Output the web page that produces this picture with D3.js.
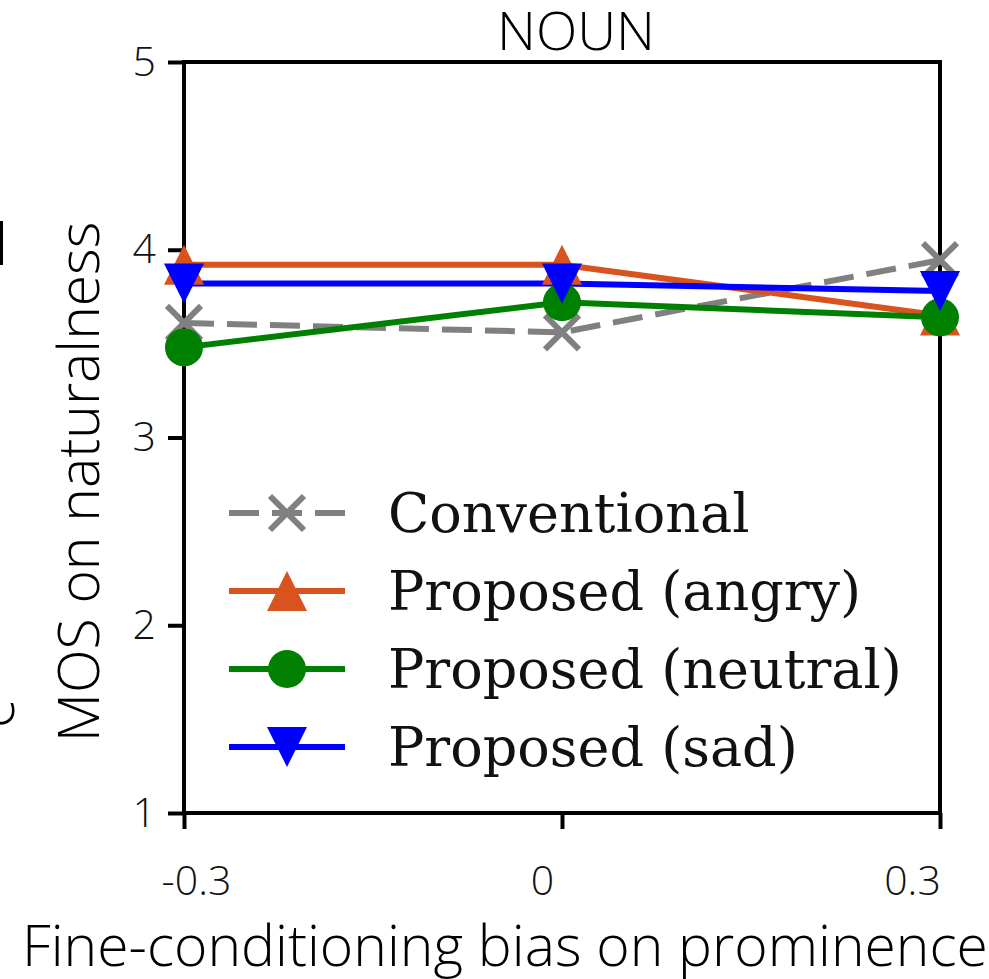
<!DOCTYPE html>
<html>
<head>
<meta charset="utf-8">
<script src="https://cdn.jsdelivr.net/npm/d3@7"></script>
<style>
  body { margin: 0; background: #fff; }
  svg { display: block; }
  .sans { font-family: "Open Sans", "Noto Sans", sans-serif; font-weight: 300; }
  .serif { font-family: "DejaVu Serif", serif; }
</style>
</head>
<body>
<div id="chart"></div>
<script>
(function () {

  // values
  const biases = [-0.3, 0, 0.3]
  const xTickLabels = ['-0.3', '0', '0.3']
  const yTicks = [1, 2, 3, 4, 5]

  const conventional = [3.61, 3.56, 3.945]
  const angry = [3.92, 3.92, 3.65]
  const neutral = [3.48, 3.72, 3.64]
  const sad = [3.82, 3.82, 3.78]

  const series = [
    { name: 'Conventional', values: conventional, color: '#808080', marker: 'x', dash: '30,13' },
    { name: 'Proposed (angry)', values: angry, color: '#d9531e', marker: 'up', dash: null },
    { name: 'Proposed (neutral)', values: neutral, color: '#008000', marker: 'circle', dash: null },
    { name: 'Proposed (sad)', values: sad, color: '#0000ff', marker: 'down', dash: null }
  ]

  const margin = { top: 62, right: 49, bottom: 166, left: 184 }
  const width = 989 - margin.left - margin.right
  const height = 979 - margin.top - margin.bottom

  const root = d3.select('#chart').append('svg')
      .attr('width', 989)
      .attr('height', 979)

  const svg = root.append('g')
      .attr('transform', 'translate(' + margin.left + ',' + margin.top + ')')

  const xPositionScale = d3.scaleLinear()
    .domain([-0.3, 0.3])
    .range([0, width])

  const yPositionScale = d3.scaleLinear()
    .domain([1, 5])
    .range([height, 0])

  // axes
  const yAxis = d3.axisLeft(yPositionScale)
    .tickValues(yTicks)
    .tickFormat(d3.format('d'))
    .tickSize(16)
    .tickPadding(12)
  svg.append('g').attr('class', 'axis y-axis').call(yAxis)

  const xAxis = d3.axisBottom(xPositionScale)
    .tickValues(biases)
    .tickFormat((d, i) => xTickLabels[i])
    .tickSize(16)
    .tickPadding(37)
  const gx = svg.append('g')
    .attr('class', 'axis x-axis')
    .attr('transform', 'translate(0,' + height + ')')
    .call(xAxis)

  svg.selectAll('.axis .domain').remove()
  svg.selectAll('.axis line').attr('stroke', '#000').attr('stroke-width', 4)
  svg.selectAll('.axis text')
    .attr('class', 'sans')
    .attr('font-size', 41)
    .attr('fill', '#111')
  // the labels in the original sit a little off their ticks
  const labelNudge = [12, -20, -28]
  gx.selectAll('text')
    .attr('dy', '0.71em')
    .attr('dx', (d, i) => labelNudge[i])

  // frame
  svg.append('rect')
    .attr('x', 0).attr('y', 0)
    .attr('width', width).attr('height', height)
    .attr('fill', 'none')
    .attr('stroke', '#000')
    .attr('stroke-width', 4)

  const line = d3.line()
    .x((d, i) => xPositionScale(biases[i]))
    .y(d => yPositionScale(d))

  function drawMarker (g, type, color) {
    if (type === 'x') {
      g.append('path')
        .attr('d', 'M-17,-17L17,17M-17,17L17,-17')
        .attr('stroke', color).attr('stroke-width', 6).attr('fill', 'none')
    } else if (type === 'circle') {
      g.append('circle').attr('r', 19).attr('fill', color)
    } else if (type === 'up') {
      g.append('path').attr('d', 'M0,-20L20,20L-20,20Z').attr('fill', color)
    } else {
      g.append('path').attr('d', 'M0,20L20,-20L-20,-20Z').attr('fill', color)
    }
  }

  series.forEach(s => {
    svg.append('path')
      .datum(s.values)
      .attr('d', line)
      .attr('fill', 'none')
      .attr('stroke', s.color)
      .attr('stroke-width', 6)
      .attr('stroke-dasharray', s.dash)
  })

  series.forEach(s => {
    svg.selectAll('.m-' + s.marker)
      .data(s.values)
      .join('g')
      .attr('class', 'm-' + s.marker)
      .attr('transform', (d, i) => 'translate(' + xPositionScale(biases[i]) + ',' + yPositionScale(d) + ')')
      .each(function () { drawMarker(d3.select(this), s.marker, s.color) })
  })

  // legend
  const legend = root.append('g').attr('transform', 'translate(229,513)')
  series.forEach((s, i) => {
    const row = legend.append('g').attr('transform', 'translate(0,' + (i * 78) + ')')
    row.append('line')
      .attr('x1', 0).attr('x2', 116)
      .attr('stroke', s.color)
      .attr('stroke-width', 6)
      .attr('stroke-dasharray', s.dash)
    const mg = row.append('g').attr('transform', 'translate(58,0)')
    drawMarker(mg, s.marker, s.color)
    row.append('text')
      .attr('class', 'serif')
      .attr('x', 159)
      .attr('dy', '0.36em')
      .attr('font-size', 54)
      .attr('fill', '#111')
      .text(s.name)
  })

  // titles
  root.append('text')
    .attr('class', 'sans')
    .attr('x', 576)
    .attr('y', 50)
    .attr('text-anchor', 'middle')
    .attr('font-size', 54)
    .text('NOUN')

  root.append('text')
    .attr('class', 'sans')
    .attr('transform', 'translate(99,482) rotate(-90)')
    .attr('text-anchor', 'middle')
    .attr('font-size', 57)
    .text('MOS on naturalness')

  root.append('text')
    .attr('class', 'sans')
    .attr('x', 505)
    .attr('y', 966)
    .attr('text-anchor', 'middle')
    .attr('font-size', 57)
    .text('Fine-conditioning bias on prominence')

  // pieces of the neighbouring panel cut off at the left edge
  root.append('rect').attr('x', 0).attr('y', 221).attr('width', 3).attr('height', 44).attr('fill', '#000')
  root.append('text')
    .attr('class', 'sans')
    .attr('transform', 'translate(14,728) rotate(-90)')
    .attr('font-size', 57)
    .text('c')

})();
</script>
</body>
</html>
